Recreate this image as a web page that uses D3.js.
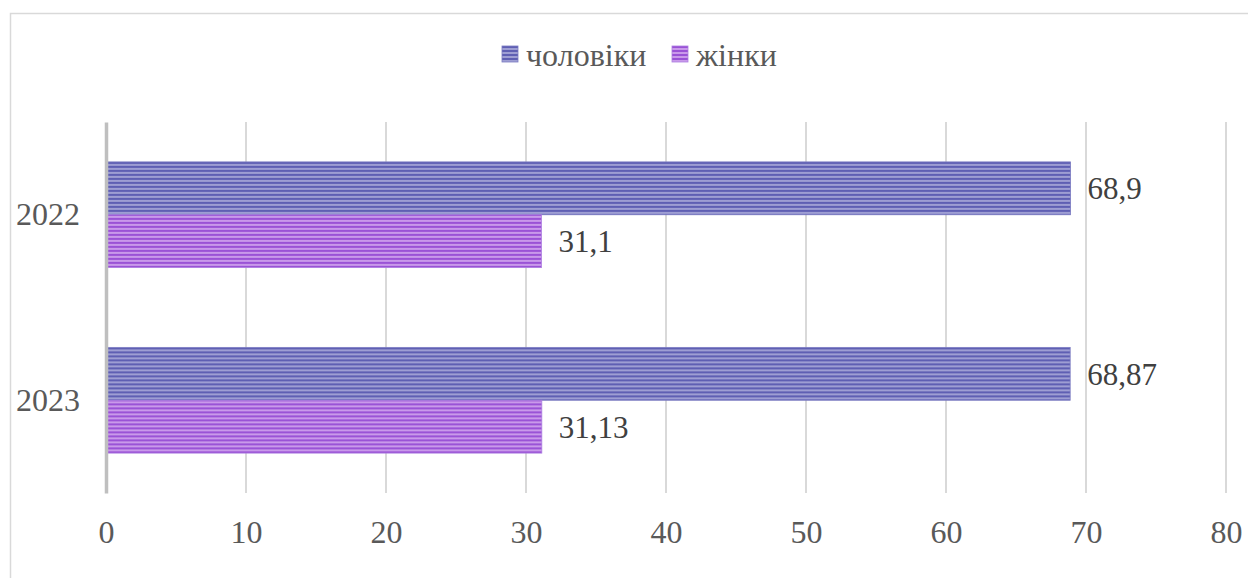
<!DOCTYPE html>
<html>
<head>
<meta charset="utf-8">
<script src="https://cdn.jsdelivr.net/npm/d3@7"></script>
<style>
  html, body { margin: 0; padding: 0; background: #fff; }
  svg { display: block; }
  text { font-family: "Liberation Serif", "Times New Roman", "DejaVu Serif", serif; }
</style>
</head>
<body>
<svg id="chart" width="1248" height="578"></svg>
<script>
// Share of men and women, %, by year
const years = ["2022", "2023"];
const seriesNames = ["чоловіки", "жінки"];
const menValues = [68.9, 68.87];
const womenValues = [31.1, 31.13];
const valueLabels = [["68,9", "31,1"], ["68,87", "31,13"]];
const xTicks = [0, 10, 20, 30, 40, 50, 60, 70, 80];

const svg = d3.select("#chart");
const W = 1248, H = 578;
const margin = { left: 106, right: 22, top: 122, bottom: 85 };

// chart frame
svg.append("rect")
  .attr("x", 10.5).attr("y", 13.5)
  .attr("width", W).attr("height", H)
  .attr("fill", "#fff").attr("stroke", "#d9d9d9").attr("stroke-width", 1.5);

// striped fills
const defs = svg.append("defs");
function stripes(id, dark, light) {
  const p = defs.append("pattern")
    .attr("id", id).attr("patternUnits", "userSpaceOnUse")
    .attr("width", 8).attr("height", 4);
  p.append("rect").attr("width", 8).attr("height", 4).attr("fill", dark);
  p.append("rect").attr("y", 2.2).attr("width", 8).attr("height", 1.6).attr("fill", light);
}
stripes("stripeMen", "#5f5fb3", "#aeaedb");
stripes("stripeWomen", "#9a52d6", "#d5aaf0");
const fills = ["url(#stripeMen)", "url(#stripeWomen)"];
const edges = ["#7b7bc2", "#ad7ee0"];

const x = d3.scaleLinear().domain([0, 80]).range([margin.left, W - margin.right]);
const y0 = d3.scaleBand().domain(years).range([margin.top, H - margin.bottom]).paddingInner(0.43).paddingOuter(0.215);
const y1 = d3.scaleBand().domain(seriesNames).range([0, y0.bandwidth()]);

// vertical gridlines
svg.append("g")
  .selectAll("line")
  .data(xTicks.filter(t => t > 0))
  .join("line")
  .attr("x1", d => x(d)).attr("x2", d => x(d))
  .attr("y1", margin.top).attr("y2", H - margin.bottom)
  .attr("stroke", "#d9d9d9").attr("stroke-width", 2);

// bars
const rows = years.map((yr, i) => ({ yr, vals: [menValues[i], womenValues[i]], labels: valueLabels[i] }));
const groups = svg.append("g").selectAll("g")
  .data(rows).join("g")
  .attr("transform", d => `translate(0,${y0(d.yr)})`);

groups.selectAll("rect")
  .data(d => d.vals.map((v, j) => ({ v, name: seriesNames[j], j })))
  .join("rect")
  .attr("x", x(0))
  .attr("y", d => y1(d.name))
  .attr("width", d => x(d.v) - x(0))
  .attr("height", y1.bandwidth())
  .attr("fill", d => fills[d.j])
  .attr("stroke", d => edges[d.j]).attr("stroke-width", 0.8);

groups.selectAll("text")
  .data(d => d.vals.map((v, j) => ({ v, name: seriesNames[j], label: d.labels[j] })))
  .join("text")
  .attr("x", d => x(d.v) + 17)
  .attr("y", d => y1(d.name) + y1.bandwidth() / 2)
  .attr("dy", "0.35em")
  .attr("font-size", 31)
  .attr("fill", "#404040")
  .text(d => d.label);

// x axis labels
const xAxis = d3.axisBottom(x).tickValues(xTicks).tickSize(0).tickPadding(27).tickFormat(d3.format("d"));
const gx = svg.append("g").attr("transform", `translate(0,${H - margin.bottom})`).call(xAxis);
gx.attr("font-family", null);
gx.select(".domain").remove();
gx.selectAll("text")
  .attr("font-size", 32)
  .attr("fill", "#595959");

// y axis (category labels)
const yAxis = d3.axisLeft(y0).tickSize(0).tickPadding(26);
const gy = svg.append("g").attr("transform", `translate(${margin.left},0)`).call(yAxis);
gy.attr("font-family", null);
gy.select(".domain").attr("stroke", "#bfbfbf").attr("stroke-width", 3.5);
gy.selectAll("text")
  .attr("font-size", 32)
  .attr("fill", "#595959");

// legend
const legend = svg.append("g").attr("transform", "translate(502,46)");
const legendX = [0, 170];
seriesNames.forEach((name, j) => {
  const g = legend.append("g").attr("transform", `translate(${legendX[j]},0)`);
  g.append("rect").attr("width", 16).attr("height", 16)
    .attr("fill", fills[j]).attr("stroke", edges[j]).attr("stroke-width", 0.8);
  g.append("text")
    .attr("x", 24).attr("y", 8.5).attr("dy", "0.35em")
    .attr("font-size", 32)
    .attr("fill", "#595959")
    .text(name);
});
</script>
</body>
</html>
